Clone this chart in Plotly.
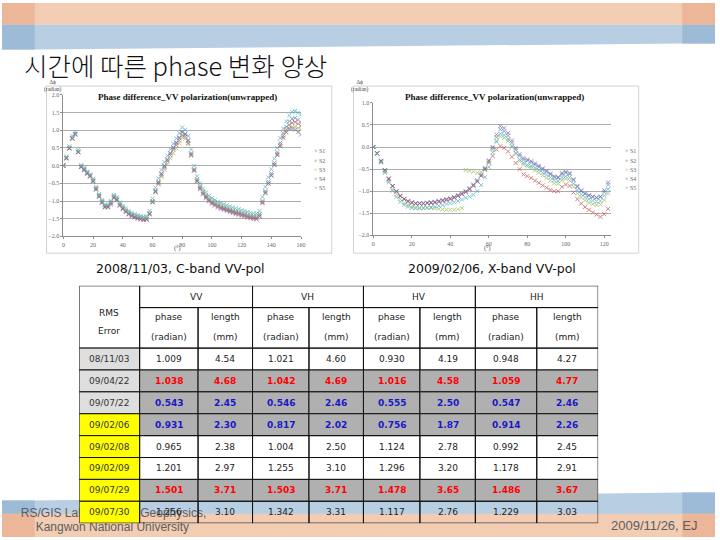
import plotly.graph_objects as go

# ---------------- chart data ----------------
series_names = ["S1", "S2", "S3", "S4", "S5"]

# C-band (2008/11/03), x = 0, 2, ..., 160
c_x = list(range(0, 161, 2))
c_s1 = [0.00, 0.22, 0.50, 0.78, 0.90, 0.40, -0.02, -0.10, -0.20, -0.28,
        -0.42, -0.65, -0.85, -1.02, -1.15, -1.15, -1.05, -0.88, -0.95, -1.10,
        -1.20, -1.28, -1.35, -1.40, -1.44, -1.47, -1.49, -1.51, -1.50, -1.35,
        -1.00, -0.70, -0.45, -0.22, 0.00, 0.18, 0.36, 0.52, 0.66, 0.80,
        0.96, 0.90, 0.72, 0.35, -0.10, -0.40, -0.60, -0.75, -0.86, -0.95,
        -1.02, -1.07, -1.12, -1.16, -1.19, -1.22, -1.25, -1.28, -1.31, -1.33,
        -1.36, -1.38, -1.41, -1.43, -1.45, -1.46, -1.38, -1.00, -0.72, -0.45,
        -0.22, 0.08, 0.38, 0.65, 0.92, 1.10, 1.25, 1.32, 1.35, 1.30,
        1.22]
c_s2 = [0.00, 0.20, 0.48, 0.76, 0.88, 0.38, -0.04, -0.12, -0.22, -0.30,
        -0.44, -0.67, -0.87, -1.04, -1.17, -1.17, -1.07, -0.90, -0.97, -1.12,
        -1.22, -1.30, -1.37, -1.42, -1.46, -1.49, -1.51, -1.53, -1.52, -1.37,
        -1.03, -0.74, -0.50, -0.28, -0.06, 0.12, 0.29, 0.45, 0.58, 0.71,
        0.86, 0.82, 0.64, 0.30, -0.14, -0.44, -0.64, -0.79, -0.89, -0.98,
        -1.05, -1.10, -1.15, -1.19, -1.22, -1.25, -1.28, -1.31, -1.34, -1.36,
        -1.39, -1.41, -1.44, -1.46, -1.48, -1.49, -1.42, -1.04, -0.76, -0.50,
        -0.27, 0.03, 0.33, 0.59, 0.85, 1.02, 1.15, 1.21, 1.23, 1.19,
        1.12]
c_s3 = [0.01, 0.23, 0.51, 0.78, 0.88, 0.40, -0.01, -0.09, -0.19, -0.27,
        -0.40, -0.63, -0.83, -1.00, -1.12, -1.12, -1.03, -0.86, -0.93, -1.07,
        -1.16, -1.25, -1.32, -1.37, -1.40, -1.43, -1.45, -1.47, -1.47, -1.34,
        -1.02, -0.76, -0.53, -0.32, -0.12, 0.05, 0.21, 0.36, 0.49, 0.63,
        0.80, 0.76, 0.60, 0.28, -0.12, -0.38, -0.57, -0.72, -0.83, -0.92,
        -0.99, -1.04, -1.09, -1.13, -1.16, -1.19, -1.22, -1.25, -1.28, -1.30,
        -1.33, -1.35, -1.38, -1.40, -1.41, -1.42, -1.36, -1.02, -0.76, -0.50,
        -0.27, 0.02, 0.30, 0.55, 0.78, 0.94, 1.05, 1.10, 1.10, 1.06,
        1.02]
c_s4 = [-0.01, 0.21, 0.49, 0.77, 0.89, 0.38, -0.04, -0.13, -0.23, -0.31,
        -0.45, -0.68, -0.88, -1.05, -1.18, -1.18, -1.10, -0.92, -0.98, -1.13,
        -1.23, -1.31, -1.38, -1.43, -1.47, -1.50, -1.52, -1.54, -1.53, -1.38,
        -1.04, -0.73, -0.48, -0.24, -0.02, 0.16, 0.34, 0.50, 0.64, 0.78,
        0.94, 0.88, 0.70, 0.32, -0.14, -0.45, -0.66, -0.81, -0.92, -1.01,
        -1.08, -1.13, -1.18, -1.22, -1.25, -1.28, -1.31, -1.34, -1.37, -1.39,
        -1.42, -1.44, -1.47, -1.49, -1.51, -1.52, -1.44, -1.06, -0.78, -0.51,
        -0.28, 0.02, 0.30, 0.55, 0.80, 0.95, 1.05, 1.05, 1.02, 0.95,
        0.88]
c_s5 = [0.03, 0.26, 0.55, 0.84, 0.95, 0.45, 0.02, -0.06, -0.16, -0.24,
        -0.37, -0.60, -0.80, -0.97, -1.10, -1.10, -1.00, -0.83, -0.89, -1.04,
        -1.13, -1.21, -1.28, -1.33, -1.37, -1.40, -1.42, -1.44, -1.43, -1.28,
        -0.93, -0.62, -0.36, -0.12, 0.10, 0.28, 0.46, 0.62, 0.77, 0.92,
        1.08, 1.02, 0.84, 0.46, 0.00, -0.30, -0.50, -0.65, -0.76, -0.85,
        -0.92, -0.97, -1.02, -1.06, -1.09, -1.12, -1.15, -1.18, -1.21, -1.23,
        -1.26, -1.28, -1.31, -1.33, -1.35, -1.36, -1.28, -0.88, -0.60, -0.33,
        -0.10, 0.20, 0.50, 0.78, 1.05, 1.25, 1.42, 1.52, 1.55, 1.50,
        1.45]

# X-band (2009/02/06), x = 0, 2, ..., 122
x_x = list(range(0, 123, 2))
x_s1 = [0.00, -0.14, -0.32, -0.53, -0.72, -0.88, -1.00, -1.10, -1.17, -1.22,
        -1.25, -1.27, -1.27, -1.27, -1.26, -1.25, -1.24, -1.22, -1.20, -1.18,
        -1.16, -1.13, -1.09, -1.05, -1.00, -0.93, -0.85, -0.75, -0.62, -0.47,
        -0.30, -0.02, 0.22, 0.40, 0.36, 0.26, 0.10, -0.06, -0.20, -0.29,
        -0.31, -0.35, -0.40, -0.45, -0.51, -0.56, -0.62, -0.69, -0.70, -0.62,
        -0.58, -0.61, -0.75, -0.90, -1.00, -1.06, -1.10, -1.13, -1.15, -1.13,
        -1.02, -0.85]
x_s2 = [0.00, -0.14, -0.32, -0.53, -0.73, -0.89, -1.01, -1.11, -1.18, -1.23,
        -1.26, -1.28, -1.28, -1.28, -1.27, -1.27, -1.26, -1.24, -1.22, -1.20,
        -1.18, -1.15, -1.11, -1.07, -1.02, -0.96, -0.88, -0.78, -0.65, -0.50,
        -0.35, -0.20, -0.06, 0.02, -0.02, -0.10, -0.22, -0.36, -0.50, -0.62,
        -0.66, -0.70, -0.76, -0.81, -0.87, -0.92, -0.97, -1.00, -1.00, -0.90,
        -0.85, -0.88, -1.03, -1.18, -1.28, -1.36, -1.42, -1.48, -1.53, -1.58,
        -1.52, -1.40]
x_s3 = [0.00, -0.15, -0.34, -0.56, -0.77, -0.95, -1.07, -1.18, -1.26, -1.31,
        -1.34, -1.36, -1.37, -1.38, -1.38, -1.38, -1.39, -1.40, -1.41, -1.42,
        -1.42, -1.42, -1.41, -1.38, -0.52, -0.54, -0.56, -0.58, -0.57, -0.52,
        -0.36, -0.06, 0.14, 0.24, 0.21, 0.14, 0.00, -0.16, -0.32, -0.40,
        -0.44, -0.48, -0.53, -0.58, -0.64, -0.70, -0.76, -0.82, -0.83, -0.75,
        -0.72, -0.76, -0.90, -1.05, -1.14, -1.21, -1.26, -1.29, -1.31, -1.30,
        -1.20, -1.05]
x_s4 = [0.00, -0.14, -0.31, -0.52, -0.71, -0.88, -1.00, -1.11, -1.18, -1.23,
        -1.26, -1.28, -1.28, -1.28, -1.27, -1.26, -1.25, -1.23, -1.21, -1.19,
        -1.17, -1.14, -1.10, -1.06, -1.01, -0.95, -0.87, -0.78, -0.65, -0.50,
        -0.32, 0.00, 0.28, 0.47, 0.43, 0.32, 0.15, -0.02, -0.16, -0.25,
        -0.28, -0.32, -0.37, -0.42, -0.48, -0.54, -0.60, -0.66, -0.68, -0.59,
        -0.56, -0.59, -0.73, -0.88, -0.98, -1.05, -1.09, -1.12, -1.14, -1.12,
        -0.98, -0.80]
x_s5 = [0.00, -0.15, -0.35, -0.58, -0.80, -0.99, -1.13, -1.24, -1.31, -1.35,
        -1.38, -1.39, -1.39, -1.38, -1.37, -1.36, -1.35, -1.33, -1.31, -1.29,
        -1.27, -1.25, -1.22, -1.19, -1.15, -1.12, -1.08, -1.00, -0.86, -0.68,
        -0.45, -0.12, 0.12, 0.30, 0.27, 0.18, 0.03, -0.13, -0.28, -0.36,
        -0.40, -0.43, -0.47, -0.52, -0.58, -0.63, -0.69, -0.75, -0.77, -0.69,
        -0.66, -0.69, -0.83, -0.97, -1.07, -1.14, -1.18, -1.21, -1.23, -1.22,
        -1.10, -0.95]

# ---------------- table data ----------------
pol_names = ["VV", "VH", "HV", "HH"]
dates = ["08/11/03", "09/04/22", "09/07/22", "09/02/06", "09/02/08", "09/02/09", "09/07/29", "09/07/30"]
vv_phase = [1.009, 1.038, 0.543, 0.931, 0.965, 1.201, 1.501, 1.256]
vv_length = [4.54, 4.68, 2.45, 2.30, 2.38, 2.97, 3.71, 3.10]
vh_phase = [1.021, 1.042, 0.546, 0.817, 1.004, 1.255, 1.503, 1.342]
vh_length = [4.60, 4.69, 2.46, 2.02, 2.50, 3.10, 3.71, 3.31]
hv_phase = [0.930, 1.016, 0.555, 0.756, 1.124, 1.296, 1.478, 1.117]
hv_length = [4.19, 4.58, 2.50, 1.87, 2.78, 3.20, 3.65, 2.76]
hh_phase = [0.948, 1.059, 0.547, 0.914, 0.992, 1.178, 1.486, 1.229]
hh_length = [4.27, 4.77, 2.46, 2.26, 2.45, 2.91, 3.67, 3.03]

# ---------------- styles / layout helpers ----------------
W, H = 720, 540
def px(x):
    return x / W
def py(y):
    return 1 - y / H

COLORS = ["#4F81BD", "#C0504D", "#9BBB59", "#8064A2", "#4BACC6"]
ORANGE, ORANGE_D = "#F2CCB3", "#ECB698"
BLUE, BLUE_D = "#B8CEE3", "#9DBAD6"

fig = go.Figure()

for name, ys, col in zip(series_names, [c_s1, c_s2, c_s3, c_s4, c_s5], COLORS):
    fig.add_trace(go.Scatter(x=c_x, y=ys, mode="markers", name=name, xaxis="x", yaxis="y",
                             marker=dict(symbol="x-thin", size=4, line=dict(width=1, color=col), color=col),
                             opacity=0.7, showlegend=False, hoverinfo="skip"))
for name, ys, col in zip(series_names, [x_s1, x_s2, x_s3, x_s4, x_s5], COLORS):
    fig.add_trace(go.Scatter(x=x_x, y=ys, mode="markers", name=name, xaxis="x2", yaxis="y2",
                             marker=dict(symbol="x-thin", size=4, line=dict(width=1, color=col), color=col),
                             opacity=0.7, showlegend=False, hoverinfo="skip"))

# footer text (sits under the table cells)
fig.add_trace(go.Scatter(x=[19, 34], y=[517, 531], mode="text",
                         text=["RS/GIS Lab., Dept. of Geophysics,", "Kangwon National University"],
                         textposition="middle right", xaxis="x4", yaxis="y4",
                         textfont=dict(family="Liberation Sans", size=12, color="#5E5E5E"),
                         showlegend=False, hoverinfo="skip"))

shapes = []
# top bands
shapes.append(dict(type="rect", xref="paper", yref="paper", x0=0, x1=1, y0=py(22), y1=1,
                   fillcolor=ORANGE, line=dict(width=0), layer="below"))
shapes.append(dict(type="path", xref="paper", yref="paper",
                   path=f"M 0 {py(22)} L 1 {py(22)} L 1 {py(41)} L {px(687)} {py(41)} L {px(33)} {py(47)} L 0 {py(47)} Z",
                   fillcolor=BLUE, line=dict(width=0), layer="below"))
for x0, x1, yb in [(0, 33, 47), (687, 720, 41)]:
    shapes.append(dict(type="rect", xref="paper", yref="paper", x0=px(x0), x1=px(x1), y0=py(22), y1=1,
                       fillcolor=ORANGE_D, line=dict(width=0), layer="below"))
    shapes.append(dict(type="rect", xref="paper", yref="paper", x0=px(x0), x1=px(x1), y0=py(yb), y1=py(22),
                       fillcolor=BLUE_D, line=dict(width=0), layer="below"))
# bottom bands
shapes.append(dict(type="path", xref="paper", yref="paper",
                   path=f"M 0 {py(503)} L {px(33)} {py(503)} L {px(687)} {py(495)} L 1 {py(495)} L 1 {py(517)} L 0 {py(517)} Z",
                   fillcolor=BLUE, line=dict(width=0), layer="below"))
shapes.append(dict(type="rect", xref="paper", yref="paper", x0=0, x1=1, y0=0, y1=py(516.5),
                   fillcolor=ORANGE, line=dict(width=0), layer="below"))
for x0, x1, yt in [(0, 33, 503), (687, 720, 495)]:
    shapes.append(dict(type="rect", xref="paper", yref="paper", x0=px(x0), x1=px(x1), y0=py(516.5), y1=py(yt),
                       fillcolor=BLUE_D, line=dict(width=0), layer="below"))
    shapes.append(dict(type="rect", xref="paper", yref="paper", x0=px(x0), x1=px(x1), y0=0, y1=py(516.5),
                       fillcolor=ORANGE_D, line=dict(width=0), layer="below"))
# chart frames
for x0, x1 in [(45, 333), (355, 643)]:
    shapes.append(dict(type="rect", xref="paper", yref="paper", x0=px(x0), x1=px(x1), y0=py(253), y1=py(84),
                       fillcolor="white", line=dict(width=1, color="#D2D2D2"), layer="below"))

# ---------------- table (drawn on its own axis pair x3/y3) ----------------
col_w = [61, 59, 55, 57, 55, 57, 56, 62, 62]
col_edges = [0]
for w in col_w:
    col_edges.append(col_edges[-1] + w)
HDR1, HDR2, ROW_H = 22, 41, 22.125
row_top = [HDR1 + HDR2 + i * ROW_H for i in range(len(dates))]
TABLE_H = HDR1 + HDR2 + ROW_H * len(dates)

row_kind = ["plain", "red", "blue", "blue", "plain", "plain", "red", "plain"]
date_fill = ["#DEDEDE"] * 3 + ["#FFFF00"] * 5
GRAY_CELL = "#B0B0B0"
TXT_COL = {"plain": "#222222", "red": "#FF0000", "blue": "#1818C8"}

def cell(x0, x1, y0, y1, fill):
    shapes.append(dict(type="rect", xref="x3", yref="y3", x0=x0, x1=x1, y0=y0, y1=y1,
                       fillcolor=fill, line=dict(width=1, color="#111111"), layer="above"))

annotations = []
TFONT = "DejaVu Sans"
def ttext(x, y, s, color="#222222", bold=False, size=9):
    annotations.append(dict(xref="x3", yref="y3", x=x, y=y, text=f"<b>{s}</b>" if bold else s,
                            showarrow=False, font=dict(family=TFONT, size=size, color=color),
                            xanchor="center", yanchor="middle"))

# header
cell(col_edges[0], col_edges[1], 0, HDR1 + HDR2, "rgba(0,0,0,0)")
ttext((col_edges[0] + col_edges[1]) / 2, 27, "RMS")
ttext((col_edges[0] + col_edges[1]) / 2, 46, "Error")
for k, pol in enumerate(pol_names):
    c0, c1, c2 = col_edges[1 + 2 * k], col_edges[2 + 2 * k], col_edges[3 + 2 * k]
    cell(c0, c2, 0, HDR1, "rgba(0,0,0,0)")
    ttext((c0 + c2) / 2, 11, pol)
    cell(c0, c1, HDR1, HDR1 + HDR2, "rgba(0,0,0,0)")
    cell(c1, c2, HDR1, HDR1 + HDR2, "rgba(0,0,0,0)")
    ttext((c0 + c1) / 2, 32, "phase")
    ttext((c0 + c1) / 2, 52, "(radian)")
    ttext((c1 + c2) / 2, 32, "length")
    ttext((c1 + c2) / 2, 52, "(mm)")

# body
value_cols = [vv_phase, vv_length, vh_phase, vh_length, hv_phase, hv_length, hh_phase, hh_length]
for i, d in enumerate(dates):
    y0, y1 = row_top[i], row_top[i] + ROW_H
    yc = (y0 + y1) / 2
    cell(col_edges[0], col_edges[1], y0, y1, date_fill[i])
    ttext((col_edges[0] + col_edges[1]) / 2, yc, d, color="#333333")
    kind = row_kind[i]
    fill = GRAY_CELL if kind != "plain" else "rgba(0,0,0,0)"
    for j, vals in enumerate(value_cols):
        cx0, cx1 = col_edges[1 + j], col_edges[2 + j]
        cell(cx0, cx1, y0, y1, fill)
        s = f"{vals[i]:.3f}" if j % 2 == 0 else f"{vals[i]:.2f}"
        ttext((cx0 + cx1) / 2, yc, s, color=TXT_COL[kind], bold=(kind != "plain"))

# ---------------- text annotations ----------------
annotations.append(dict(xref="paper", yref="paper", x=px(20), y=py(62), xanchor="left", yanchor="middle",
                        text="시간에 따른 phase 변화 양상", showarrow=False,
                        font=dict(family="Noto Sans CJK KR", size=25.5, color="#111111", weight=300)))
annotations.append(dict(xref="paper", yref="paper", x=px(180), y=py(268), xanchor="center", yanchor="middle",
                        text="2008/11/03, C-band VV-pol", showarrow=False,
                        font=dict(family="DejaVu Sans", size=12.5, color="#111111")))
annotations.append(dict(xref="paper", yref="paper", x=px(495), y=py(268), xanchor="center", yanchor="middle",
                        text="2009/02/06, X-band VV-pol", showarrow=False,
                        font=dict(family="DejaVu Sans", size=12.5, color="#111111")))
annotations.append(dict(xref="paper", yref="paper", x=px(705), y=py(528), xanchor="right", yanchor="middle",
                        text="2009/11/26, EJ", showarrow=False,
                        font=dict(family="Liberation Sans", size=13, color="#5E5E5E")))

for cx, lx in [(187, 313), (497, 627)]:
    annotations.append(dict(xref="paper", yref="paper", x=px(cx), y=py(95), xanchor="center", yanchor="middle",
                            text="<b>Phase difference_VV polarization(unwrapped)</b>", showarrow=False,
                            font=dict(family="Liberation Serif", size=9, color="#111111")))
    for k, (name, col) in enumerate(zip(series_names, COLORS)):
        annotations.append(dict(xref="paper", yref="paper", x=px(lx), y=py(150 + 9.3 * k),
                                xanchor="left", yanchor="middle", showarrow=False,
                                text=f"<span style='color:{col}'>×</span> {name}",
                                font=dict(family="Liberation Serif", size=6, color="#666666")))
for ax in [52, 362]:
    annotations.append(dict(xref="paper", yref="paper", x=px(ax), y=py(84), xanchor="center", yanchor="middle",
                            text="Δϕ<br>(radian)", showarrow=False,
                            font=dict(family="Liberation Serif", size=5.5, color="#444444")))
for ax in [177, 490]:
    annotations.append(dict(xref="paper", yref="paper", x=px(ax), y=py(248), xanchor="center", yanchor="middle",
                            text="(°)", showarrow=False,
                            font=dict(family="Liberation Serif", size=6, color="#444444")))

tickfont = dict(family="Liberation Serif", size=6, color="#666666")
common_x = dict(showgrid=False, showline=True, linecolor="#8C8C8C", linewidth=1, ticks="outside", ticklen=2,
                tickcolor="#8C8C8C", tickfont=tickfont, zeroline=False)
common_y = dict(showgrid=True, gridcolor="#ADADAD", gridwidth=1, showline=True, linecolor="#8C8C8C",
                linewidth=1, ticks="outside", ticklen=2, tickcolor="#8C8C8C", tickfont=tickfont,
                zeroline=False, tickformat=".1f", dtick=0.5)

fig.update_layout(
    width=W, height=H, margin=dict(l=0, r=0, t=0, b=0),
    paper_bgcolor="white", plot_bgcolor="rgba(0,0,0,0)", showlegend=False,
    xaxis=dict(domain=[px(62), px(302)], range=[0, 160], dtick=20, anchor="y", **common_x),
    yaxis=dict(domain=[py(236), py(93)], range=[-2, 2], anchor="x", **common_y),
    xaxis2=dict(domain=[px(375), px(615)], range=[0, 123.5], dtick=20, anchor="y2", **common_x),
    yaxis2=dict(domain=[py(235), py(101)], range=[-2, 1], anchor="x2", **common_y),
    xaxis3=dict(domain=[px(78), px(78 + col_edges[-1])], range=[0, col_edges[-1]], anchor="y3", visible=False,
                fixedrange=True),
    yaxis3=dict(domain=[py(286 + TABLE_H), py(286)], range=[TABLE_H, 0], anchor="x3", visible=False,
                fixedrange=True),
    xaxis4=dict(domain=[0, 1], range=[0, W], anchor="y4", visible=False, fixedrange=True),
    yaxis4=dict(domain=[0, 1], range=[H, 0], anchor="x4", visible=False, fixedrange=True),
    shapes=shapes, annotations=annotations,
)

fig.write_html("out.html", config={"displayModeBar": False},
               post_script="document.body.style.margin='0px';document.body.style.overflow='hidden';")
